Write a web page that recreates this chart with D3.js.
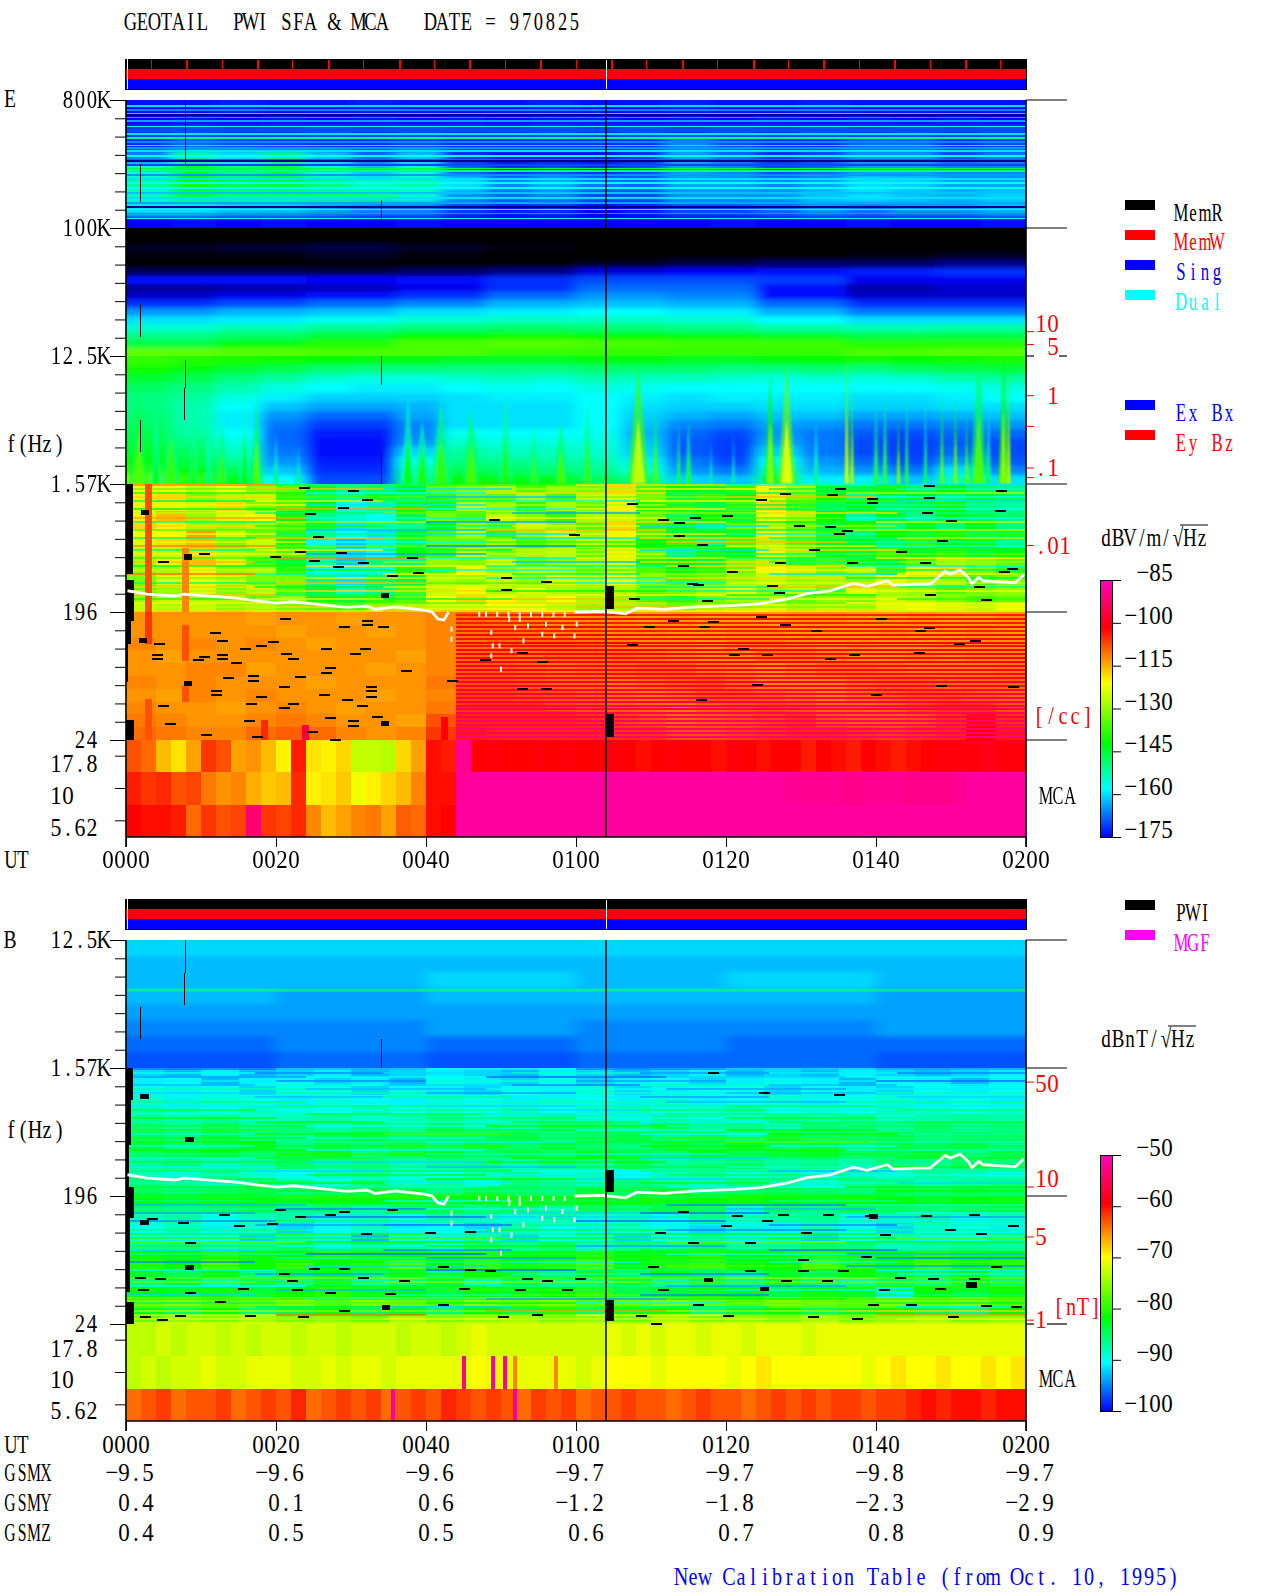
<!DOCTYPE html>
<html>
<head>
<meta charset="utf-8">
<script src="https://d3js.org/d3.v7.min.js"></script>
<style>
body { margin:0; background:#fff; }
text { font-family:"Liberation Serif",serif; font-size:26px; }
</style>
</head>
<body>
<svg id="chart" width="1280" height="1593"></svg>
<script>
// frequency is kept in axis steps: log8(f/24 Hz), 0 = 24, 1 = 196, 2 = 1.57K ...
var timeLabels = ["0000","0020","0040","0100","0120","0140","0200"];
var gsmx = ["-9.5","-9.6","-9.6","-9.7","-9.7","-9.8","-9.7"];
var gsmy = ["0.4","0.1","0.6","-1.2","-1.8","-2.3","-2.9"];
var gsmz = ["0.4","0.5","0.5","0.6","0.7","0.8","0.9"];
var eFreqLabels = ["24","196","1.57K","12.5K","100K","800K"];
var bFreqLabels = ["24","196","1.57K","12.5K"];
var mcaLabels = ["17.8","10","5.62"];
var eColorTicks = [-175,-160,-145,-130,-115,-100,-85];
var bColorTicks = [-100,-90,-80,-70,-60,-50];
var eDensitySteps = [3.19,3.09,2.69,2.45,2.125,2.05,1.52];
var bFieldSteps = [1.89,1.07,0.68,0.03];

// 100K-800K background, rows top to bottom
var eHighDb = [
[-174,-174,-173,-174,-174,-173,-174,-174,-174,-173,-174,-174,-173,-174,-174,-173,-174,-174,-174,-174],
[-175,-174,-175,-174,-175,-174,-175,-174,-175,-174,-174,-175,-174,-175,-174,-175,-174,-175,-174,-175],
[-171,-170,-171,-171,-170,-171,-170,-171,-171,-170,-171,-170,-171,-170,-171,-170,-171,-170,-171,-170],
[-172,-168,-170,-171,-172,-172,-170,-172,-172,-172,-172,-172,-166,-170,-172,-172,-168,-168,-172,-170],
[-166,-152,-160,-150,-162,-168,-162,-172,-174,-174,-174,-172,-164,-168,-172,-170,-165,-165,-170,-167],
[-156,-143,-150,-145,-156,-162,-156,-168,-172,-170,-172,-170,-164,-166,-170,-168,-164,-164,-166,-166],
[-152,-141,-147,-146,-150,-154,-152,-160,-166,-163,-167,-168,-164,-164,-166,-164,-160,-161,-164,-164],
[-154,-146,-150,-150,-150,-151,-155,-165,-168,-166,-170,-170,-165,-165,-165,-162,-160,-162,-163,-161],
[-160,-160,-162,-162,-164,-166,-166,-171,-173,-172,-175,-173,-170,-170,-168,-165,-167,-165,-165,-163],
[-175,-174,-175,-174,-175,-175,-174,-175,-175,-175,-175,-175,-175,-174,-175,-175,-174,-175,-175,-174]
];
// thin horizontal lines in the 100K-800K band
var eLineSteps = [4.96,4.93,4.90,4.89,4.87,4.84,4.80,4.77,4.74,4.71,4.68,4.65,4.63,4.61,4.57,4.54,4.53,4.50,4.47,4.45,4.42,4.39,4.36,4.32,4.28,4.24,4.20,4.17,4.15,4.12,4.08];
var eLineDb = [-160,-166,-148,-182,-165,-164,-157,-170,-160,-150,-166,-160,-165,-160,-157,-168,-182,-170,-146,-150,-165,-160,-157,-158,-162,-160,-164,-182,-156,-165,-158];

// 12.5K-100K sweep band
var eSweepDb = [
[-190,-190,-190,-190,-190,-190,-190,-190,-190,-190],
[-190,-190,-190,-190,-190,-190,-190,-190,-190,-190],
[-188,-187,-186,-188,-189,-190,-190,-190,-190,-190],
[-189,-189,-188,-189,-190,-190,-190,-190,-189,-188],
[-190,-190,-190,-190,-190,-188,-186,-184,-184,-182],
[-185,-185,-186,-184,-182,-177,-175,-174,-173,-172],
[-174,-174,-175,-174,-172,-170,-170,-171,-176,-176],
[-181,-180,-179,-176,-172,-168,-168,-174,-180,-178],
[-178,-176,-174,-172,-168,-165,-166,-174,-178,-178],
[-172,-170,-168,-166,-163,-162,-163,-168,-172,-172],
[-165,-163,-162,-160,-159,-158,-159,-163,-167,-167],
[-160,-159,-157,-155,-154,-154,-155,-158,-160,-160],
[-155,-153,-151,-149,-148,-149,-150,-152,-153,-152],
[-150,-148,-145,-142,-141,-142,-143,-144,-146,-146],
[-146,-143,-139,-136,-135,-136,-137,-137,-139,-139],
[-134,-135,-136,-136,-138,-138,-138,-138,-136,-135]
];

// 1.57K-12.5K, background under the bursts
var eLowerDb = [
[-138,-139,-140,-141,-142,-143,-143,-144,-144,-144,-143,-143,-144,-144,-143,-142,-141,-142,-141,-140],
[-141,-143,-145,-147,-149,-150,-150,-150,-150,-150,-149,-149,-149,-150,-150,-149,-150,-148,-147,-146],
[-145,-147,-150,-152,-155,-156,-156,-155,-154,-155,-153,-154,-154,-155,-156,-155,-156,-155,-153,-152],
[-148,-150,-153,-156,-158,-159,-159,-158,-157,-158,-156,-157,-158,-158,-158,-158,-158,-158,-157,-156],
[-150,-152,-156,-159,-161,-161,-161,-160,-159,-159,-158,-159,-160,-159,-159,-159,-160,-160,-159,-158],
[-150,-153,-158,-162,-164,-164,-163,-160,-160,-160,-158,-160,-161,-161,-160,-160,-161,-161,-160,-160],
[-149,-153,-159,-165,-168,-168,-164,-160,-160,-160,-158,-161,-163,-164,-162,-162,-164,-164,-163,-162],
[-148,-153,-159,-167,-171,-171,-166,-160,-160,-160,-158,-162,-166,-167,-164,-165,-167,-167,-166,-165],
[-147,-152,-158,-168,-173,-173,-166,-157,-158,-158,-157,-163,-168,-170,-165,-167,-169,-170,-168,-168],
[-146,-150,-156,-168,-174,-174,-165,-155,-156,-156,-156,-162,-169,-171,-164,-167,-170,-171,-169,-170],
[-144,-148,-154,-167,-174,-174,-161,-152,-154,-154,-155,-161,-169,-171,-161,-167,-170,-171,-168,-170],
[-142,-146,-151,-165,-173,-173,-157,-150,-151,-152,-153,-159,-167,-170,-157,-165,-168,-170,-165,-169],
[-139,-143,-147,-162,-172,-172,-154,-147,-148,-149,-151,-156,-165,-167,-153,-163,-165,-167,-160,-166],
[-133,-138,-143,-158,-170,-170,-150,-142,-143,-143,-147,-151,-161,-162,-147,-159,-159,-162,-154,-160]
];
// bursts rising from 1.57K
var burstMin = [1.7,4,6,9,11,12.8,15.8,17.4,20,23,37.6,39.5,42,46,50.6,54.4,58,61.5,68.3,70.6,73.7,75,78,81,85.9,88.1,92,96.1,96.8,100,101.2,103,104.1,106.6,108.8,110.6,112.1,113.7,115,117,117.7];
var burstTop = [2.76,2.6,2.7,2.5,2.4,2.47,2.7,2.65,2.4,2.3,2.7,2.5,2.65,2.6,2.7,2.47,2.5,2.65,2.92,2.6,2.5,2.5,2.35,2.4,2.89,2.92,2.5,3.1,2.76,2.66,2.74,2.53,2.74,2.68,2.74,2.71,2.58,3.0,2.6,3.05,3.0];
var burstWidth = [2.5,1.5,2.5,1.5,1,2,1.5,1.5,1,1,2,2.5,3,2.5,2,1.5,2,1.5,3,1,0.7,1,0.6,0.6,1.5,2.5,0.8,0.7,0.6,0.8,0.8,0.6,0.6,0.6,0.6,0.6,0.6,2.5,0.8,1.5,0.6];
var burstDb = [-135,-142,-138,-140,-146,-138,-142,-135,-148,-150,-142,-140,-138,-136,-140,-138,-136,-138,-125,-135,-140,-140,-150,-150,-130,-122,-146,-122,-125,-138,-138,-128,-138,-140,-132,-128,-132,-135,-144,-130,-125];

// 196-1.57K mosaic
var eMidDb = [
[-122,-122,-126,-122,-130,-134,-144,-150,-148,-142,-134,-130,-128,-136,-130,-132,-118,-136,-142,-144,-138,-120,-128,-144,-146,-140,-148,-142,-148,-150],
[-120,-118,-132,-128,-126,-138,-148,-152,-146,-148,-138,-132,-134,-128,-136,-126,-124,-132,-146,-138,-142,-124,-132,-140,-150,-146,-142,-148,-144,-146],
[-124,-124,-126,-118,-132,-136,-142,-156,-152,-140,-140,-126,-130,-138,-128,-134,-120,-140,-138,-146,-136,-118,-136,-148,-142,-148,-146,-140,-150,-152],
[-120,-116,-130,-124,-122,-142,-150,-154,-158,-146,-132,-136,-126,-132,-138,-128,-126,-134,-148,-142,-146,-122,-128,-142,-152,-144,-150,-144,-146,-148],
[-118,-120,-128,-130,-128,-134,-146,-160,-152,-150,-142,-130,-134,-126,-130,-136,-118,-138,-140,-150,-134,-126,-134,-146,-140,-150,-142,-150,-142,-150],
[-122,-122,-114,-126,-134,-138,-152,-158,-160,-144,-136,-128,-138,-130,-124,-130,-122,-136,-146,-144,-140,-120,-130,-138,-148,-142,-146,-140,-148,-146],
[-124,-118,-116,-132,-126,-140,-156,-162,-154,-148,-134,-134,-128,-136,-132,-126,-128,-142,-138,-152,-136,-128,-136,-144,-142,-148,-138,-144,-140,-150],
[-126,-126,-118,-128,-130,-136,-148,-160,-158,-142,-138,-126,-132,-128,-126,-134,-120,-134,-150,-140,-142,-124,-130,-140,-146,-138,-144,-138,-146,-142],
[-128,-120,-116,-124,-136,-144,-154,-162,-150,-150,-130,-132,-124,-134,-130,-128,-124,-140,-142,-146,-132,-128,-138,-136,-140,-144,-136,-128,-130,-134],
[-130,-128,-120,-130,-128,-138,-158,-156,-156,-138,-136,-124,-130,-126,-128,-132,-126,-136,-144,-138,-134,-122,-126,-132,-128,-136,-124,-118,-132,-138],
[-132,-124,-122,-126,-132,-132,-150,-160,-148,-146,-128,-130,-126,-130,-124,-126,-122,-130,-136,-134,-130,-126,-130,-128,-130,-122,-126,-128,-136,-132],
[-134,-130,-124,-132,-126,-136,-146,-154,-150,-136,-126,-122,-128,-124,-128,-130,-128,-134,-132,-128,-124,-130,-126,-132,-124,-128,-130,-136,-132,-130],
[-130,-126,-128,-128,-134,-130,-140,-146,-138,-134,-122,-118,-120,-126,-122,-128,-130,-136,-138,-132,-128,-128,-134,-130,-132,-126,-128,-132,-136,-134],
[-126,-128,-126,-130,-128,-132,-134,-136,-130,-128,-124,-124,-122,-122,-126,-130,-128,-130,-132,-128,-126,-124,-128,-126,-128,-124,-122,-124,-126,-122]
];
// fine lines over the mosaic; row lengths differ so the blocks do not line up
var eMidFine = [
[-112,-150,-140,-118,-156,-160],
[-134,-116,-160,-128,-120,-146,-154],
[-140,-158,-118,-148,-128],
[-118,-136,-162,-132,-116,-158],
[-146,-124,-150,-156,-122,-138,-160],
[-120,-160,-128,-146,-152],
[-142,-114,-158,-120,-148,-156],
[-126,-148,-134,-164,-130,-118,-150],
[-114,-156,-122,-136,-158],
[-150,-128,-164,-118,-142,-124],
[-118,-140,-152,-124,-160,-130,-148],
[-136,-162,-116,-146,-126],
[-122,-150,-160,-120,-154,-138],
[-148,-116,-132,-160,-118,-150,-126],
[-124,-158,-138,-116,-152],
[-112,-134,-166,-142,-122,-156],
[-150,-122,-146,-128,-160,-118,-144],
[-120,-164,-126,-150,-134],
[-138,-112,-156,-124,-148,-120],
[-116,-148,-130,-162,-118,-152,-130],
[-144,-120,-152,-118,-156],
[-126,-140,-158,-136,-120,-148],
[-110,-152,-120,-148,-128,-160,-122],
[-132,-124,-154,-118,-146],
[-150,-116,-136,-156,-124,-126],
[-118,-144,-124,-128,-150,-116,-152],
[-128,-118,-142,-152,-122],
[-116,-150,-126,-120,-140,-130],
[-140,-124,-146,-116,-152,-122,-138],
[-120,-136,-118,-134,-120],
[-126,-118,-128,-116,-132,-124],
[-118,-124,-116,-122,-120,-118,-126]
];
// narrow strong columns in the low bands: minute, stepTop, stepBottom, value
var eColumns = [[2.5,2,1,-108],[2.5,1,0.75,-106],[2.5,0.32,0,-108],[7.5,1.5,1,-112],[7.5,0.9,0.62,-108],[7.5,0.42,0.3,-108],[23.5,0.12,0,-97],[18,0.16,0,-105],[42,0.18,0,-102]];

// 24-196, orange block on the left, redder on the right
var eBaseDb = [
[-113,-113,-113,-113,-114,-113,-113,-114,-113,-113,-112,-110,-111,-112,-113,-113,-113,-114,-113,-114,-114,-114,-113,-113,-114,-114,-113,-114,-114,-113],
[-113,-113,-113,-113,-113,-114,-113,-113,-114,-113,-112,-111,-110,-111,-112,-112,-113,-113,-114,-114,-113,-113,-114,-114,-114,-113,-114,-114,-113,-114],
[-112,-113,-112,-113,-112,-113,-114,-113,-113,-113,-112,-111,-110,-110,-110,-111,-112,-113,-113,-114,-112,-112,-113,-114,-113,-114,-114,-113,-113,-113],
[-113,-114,-113,-113,-113,-113,-113,-113,-113,-114,-112,-110,-110,-111,-110,-110,-110,-111,-112,-113,-113,-111,-111,-112,-113,-113,-112,-113,-112,-112],
[-113,-113,-112,-112,-114,-113,-113,-113,-114,-113,-112,-109,-109,-110,-111,-110,-110,-109,-109,-111,-112,-113,-112,-110,-110,-111,-112,-112,-112,-111],
[-112,-113,-112,-113,-113,-113,-114,-113,-113,-113,-111,-108,-108,-109,-110,-110,-111,-110,-109,-108,-110,-112,-112,-112,-110,-109,-109,-110,-110,-110],
[-113,-114,-112,-113,-112,-113,-113,-113,-114,-113,-112,-107,-107,-108,-108,-109,-110,-111,-110,-108,-108,-109,-110,-112,-110,-109,-108,-108,-109,-110],
[-112,-113,-113,-114,-113,-112,-113,-114,-113,-113,-111,-106,-106,-106,-107,-108,-109,-110,-111,-109,-108,-107,-108,-110,-110,-109,-107,-106,-106,-108],
[-111,-112,-113,-113,-112,-111,-112,-113,-113,-114,-108,-105,-105,-105,-105,-106,-107,-108,-110,-109,-108,-107,-106,-108,-109,-109,-108,-106,-103,-106],
[-110,-111,-112,-112,-110,-109,-110,-112,-113,-112,-106,-104,-105,-105,-105,-105,-106,-106,-108,-108,-107,-106,-105,-105,-106,-107,-106,-105,-102,-104]
];
var eBaseStripeDb = [-104,-103,-104,-102,-104,-102,-103,-101,-103,-101,-102,-100,-101,-99,-101,-99,-100,-98,-99,-97,-98,-96,-97,-95,-96,-94,-95,-93,-94,-92,-93,-91];

// MCA channels 17.8, 10, 5.62, one value every 2 min
var eMcaDb = [
[-108,-110,-116,-119,-114,-106,-108,-114,-113,-116,-120,-104,-119,-120,-118,-126,-126,-127,-118,-114,-103,-104,-89,-102,-101,-102,-102,-101,-102,-101,-102,-102,-101,-102,-103,-102,-101,-102,-102,-103,-101,-102,-103,-102,-102,-104,-102,-103,-104,-102,-103,-104,-103,-102,-101,-101,-101,-100,-101,-101],
[-104,-106,-105,-108,-107,-111,-113,-112,-115,-117,-116,-105,-120,-119,-117,-122,-120,-118,-116,-112,-103,-103,-88,-88,-88,-88,-88,-88,-88,-88,-88,-88,-88,-88,-88,-88,-88,-88,-88,-88,-88,-88,-88,-88,-89,-89,-89,-89,-90,-89,-89,-89,-90,-90,-90,-89,-88,-88,-88,-88],
[-102,-103,-103,-104,-110,-106,-108,-107,-92,-106,-107,-105,-112,-116,-114,-112,-111,-114,-109,-110,-103,-102,-88,-88,-88,-88,-88,-88,-88,-88,-88,-88,-88,-88,-88,-88,-88,-88,-88,-88,-88,-88,-88,-88,-88,-88,-88,-88,-88,-88,-88,-88,-88,-88,-88,-88,-88,-88,-88,-88]
];

// black dashes (missing samples), E panel: minute and step
var eDashMin = [23.7,30.2,32.1,24.5,28.9,25.6,23.2,28.6,19.9,4.9,10.4,25,28.3,31.6,35.4,38.9,50.6,56,50.6,38.1,49,59.7,21.2,29.1,32.1,32.1,34.3,11.9,12.8,4.4,19.6,18,15.8,26.7,30.5,31.8,4.1,10.4,12.8,21.3,4.1,9.6,12.8,22.3,14.7,27.2,26.7,37.3,16.9,13.6,16.9,23.2,12,12,21,26.4,32.7,32.7,32.7,29.4,18,16.6,22.3,4.9,31.5,21,24.8,27.8,10.7,17.4,5.8,16.4,27.2,30.2,30.2,33.5,47.9,52.8,55.5,52.8,56,43.5,67.5,71.6,73.7,75.9,80.1,84.6,87.8,89.7,94.1,95.2,99.5,99.5,96.1,95,93.9,107,107,116.6,116.5,106.8,110,73.7,76.8,74.3,75.5,76.3,80.8,86.1,87,87.2,91.7,96.8,103.3,106.5,108.8,117,118.1,107.2,114.7,113.7,67.7,77.4,69.7,72.9,77,78.3,84.7,87.8,92,100.7,105.9,107,67.4,82.3,81.1,85.5,93.9,97.1,105.7,111.1,113.2,84.1,100,76.6,108.6,118.3];
var eDashStep = [1.98,1.95,1.88,1.77,1.82,1.59,1.48,1.47,1.44,1.40,1.46,1.41,1.36,1.39,1.29,1.31,1.27,1.24,1.18,1.43,1.73,1.61,0.95,0.89,0.94,0.91,0.89,0.84,0.78,0.76,0.77,0.74,0.72,0.72,0.68,0.72,0.67,0.66,0.67,0.68,0.64,0.63,0.64,0.64,0.61,0.57,0.53,0.55,0.51,0.49,0.47,0.50,0.39,0.36,0.42,0.36,0.42,0.39,0.34,0.32,0.34,0.29,0.29,0.27,0.27,0.26,0.07,0.01,0.05,0.03,0.13,0.16,0.18,0.16,0.12,0.19,0.63,0.69,0.62,0.41,0.41,0.47,1.85,1.73,1.70,1.74,1.76,1.88,1.93,1.68,1.92,1.97,1.89,1.86,1.64,1.62,1.67,1.99,1.90,1.95,1.80,1.78,1.72,1.60,1.53,1.37,1.23,1.22,1.32,1.21,1.16,1.39,1.49,1.39,1.48,1.39,1.56,1.32,1.34,1.14,1.10,1.20,1.11,1.09,0.89,0.94,0.89,0.93,0.97,0.91,0.86,0.95,0.86,0.88,0.75,0.72,0.67,0.67,0.64,0.67,0.69,0.76,0.78,0.44,0.36,0.32,0.43,0.42];
// black gaps: [min0, min1, stepTop, stepBottom]
var eGaps = [[0,0.9,2,1.3],[0,1,1.25,0.93],[0,0.6,0.93,0.75],[0,0.3,0.75,0.45],[0,1,0.16,0],[63.8,65,1.2,1.02],[63.8,65,0.2,0.02],[2,3,1.8,1.76],[7.7,8.8,1.45,1.41],[1.7,2.8,0.8,0.76],[7.7,8.8,0.46,0.42],[34,35.1,1.15,1.11],[34,35.1,0.15,0.11]];
// thin vertical gaps: [min, stepTop, stepBottom]
var eThinGaps = [[7.9,5,4.5],[1.8,4.5,4.2],[34,4.22,4],[1.8,3.4,3.15],[34,3,2.77],[7.9,2.97,2.75],[7.7,2.75,2.5],[1.8,2.5,2.25],[34,2.25,2]];

// B panel: 1.57K-12.5K background
var bTopDb = [
[-92,-92,-92,-92,-92,-92],
[-93,-93,-93,-93,-93,-93],
[-93,-93,-92,-93,-92,-93],
[-93,-94,-93,-93,-93,-94],
[-94,-94,-94,-94,-94,-94],
[-95,-95,-94,-95,-95,-94],
[-96,-95,-96,-95,-96,-96],
[-97,-96,-97,-96,-96,-97]
];
var bMidDb = [
[-92,-93,-91,-93,-92,-91,-93,-92,-91,-92,-93,-91,-92,-93,-92,-91,-93,-92,-93,-91,-92,-93,-92,-91],
[-91,-90,-93,-91,-90,-92,-91,-93,-90,-91,-92,-90,-92,-91,-90,-92,-91,-90,-91,-93,-90,-91,-93,-91],
[-90,-91,-90,-92,-90,-90,-92,-90,-91,-92,-90,-91,-89,-92,-91,-90,-90,-92,-90,-91,-92,-90,-91,-90],
[-89,-91,-89,-90,-91,-89,-90,-91,-89,-90,-91,-89,-90,-91,-89,-91,-90,-89,-91,-90,-89,-91,-90,-91],
[-88,-89,-90,-88,-89,-90,-88,-90,-89,-90,-88,-90,-89,-88,-90,-89,-88,-90,-89,-90,-88,-89,-90,-89],
[-87,-88,-87,-89,-88,-87,-89,-88,-87,-89,-88,-87,-88,-89,-87,-88,-89,-87,-88,-87,-89,-88,-87,-88],
[-86,-87,-85,-87,-86,-88,-86,-87,-85,-87,-88,-86,-86,-87,-85,-87,-86,-88,-85,-86,-87,-85,-87,-86],
[-85,-86,-84,-86,-87,-85,-84,-86,-85,-85,-84,-86,-85,-84,-86,-85,-87,-84,-86,-85,-84,-86,-85,-85],
[-84,-86,-85,-83,-86,-84,-85,-84,-86,-84,-85,-83,-85,-86,-84,-85,-83,-85,-84,-86,-84,-85,-84,-86],
[-85,-84,-83,-85,-84,-83,-86,-84,-83,-85,-84,-85,-83,-84,-85,-83,-85,-84,-83,-85,-84,-83,-86,-84],
[-87,-86,-88,-87,-85,-87,-86,-88,-87,-86,-88,-86,-87,-85,-87,-86,-85,-87,-86,-88,-86,-87,-85,-86],
[-88,-89,-87,-89,-90,-88,-87,-89,-90,-88,-87,-89,-88,-90,-88,-87,-89,-88,-90,-88,-89,-87,-88,-89],
[-86,-87,-88,-86,-87,-89,-86,-88,-87,-89,-86,-87,-88,-86,-87,-88,-86,-87,-89,-87,-86,-88,-87,-86],
[-85,-86,-85,-84,-86,-85,-84,-85,-86,-84,-85,-86,-84,-85,-84,-86,-85,-84,-85,-86,-84,-85,-84,-85]
];
var bMidFine = [
[-96,-93,-90,-95,-92,-94],
[-90,-95,-92,-89,-94,-91,-95],
[-94,-90,-96,-92,-90],
[-91,-95,-89,-94,-91,-96],
[-93,-89,-92,-95,-88,-93,-90],
[-88,-93,-90,-94,-91],
[-92,-87,-94,-89,-93,-88],
[-89,-93,-87,-91,-94,-89,-92],
[-86,-91,-88,-93,-87],
[-91,-86,-92,-88,-85,-91],
[-84,-90,-87,-92,-85,-89,-86],
[-89,-84,-91,-86,-88],
[-82,-88,-85,-90,-83,-87],
[-87,-82,-89,-84,-91,-85,-83],
[-84,-90,-81,-87,-85],
[-80,-86,-83,-89,-82,-86],
[-88,-82,-79,-85,-90,-81,-87],
[-83,-89,-84,-80,-86],
[-81,-87,-91,-83,-78,-88],
[-89,-83,-80,-86,-82,-90,-84],
[-82,-90,-85,-81,-88],
[-86,-80,-88,-91,-83,-85],
[-90,-84,-87,-81,-92,-86,-83],
[-84,-92,-82,-88,-86],
[-91,-86,-93,-84,-89,-82],
[-85,-92,-84,-90,-86,-93,-87],
[-89,-83,-91,-85,-90],
[-84,-90,-82,-92,-85,-88],
[-88,-82,-91,-86,-83,-89,-92],
[-83,-88,-85,-90,-82],
[-85,-81,-87,-83,-86,-82],
[-82,-84,-80,-85,-81,-83,-86]
];
var bLowDb = [
[-82,-83,-81,-82,-83,-81,-82,-81,-83,-82,-81,-83,-82,-81,-83,-82,-81,-82,-83,-81,-82,-83,-82,-81],
[-85,-86,-85,-84,-86,-85,-87,-85,-84,-86,-85,-87,-85,-86,-84,-85,-89,-85,-86,-84,-85,-86,-85,-84],
[-88,-87,-90,-88,-87,-89,-88,-90,-87,-88,-89,-87,-89,-88,-90,-87,-89,-88,-87,-90,-88,-87,-89,-88],
[-90,-88,-91,-89,-92,-90,-88,-91,-90,-92,-88,-90,-91,-89,-90,-92,-89,-91,-88,-90,-92,-89,-90,-91],
[-89,-91,-90,-92,-88,-91,-93,-89,-91,-88,-92,-90,-89,-92,-90,-88,-91,-89,-92,-90,-88,-91,-90,-88],
[-87,-86,-88,-87,-85,-88,-86,-87,-89,-86,-87,-85,-88,-86,-87,-85,-88,-87,-85,-86,-88,-87,-86,-87],
[-81,-82,-80,-81,-82,-80,-81,-82,-81,-80,-82,-81,-80,-82,-81,-80,-82,-81,-80,-81,-82,-80,-81,-82],
[-80,-82,-78,-81,-79,-82,-80,-78,-82,-79,-81,-80,-78,-82,-80,-79,-81,-82,-78,-80,-82,-79,-81,-80],
[-83,-85,-82,-86,-84,-82,-85,-83,-86,-82,-84,-86,-83,-85,-82,-84,-86,-83,-85,-82,-84,-85,-83,-86],
[-86,-84,-88,-85,-87,-84,-88,-86,-84,-89,-85,-87,-86,-84,-88,-85,-87,-84,-86,-88,-85,-87,-84,-86],
[-82,-83,-81,-84,-82,-80,-83,-82,-84,-81,-83,-82,-80,-84,-83,-81,-82,-84,-81,-83,-91,-82,-84,-81],
[-77,-76,-78,-77,-76,-78,-76,-77,-78,-76,-77,-76,-78,-77,-76,-77,-78,-76,-77,-78,-76,-77,-76,-78],
[-83,-85,-82,-86,-84,-81,-85,-83,-86,-82,-84,-80,-85,-83,-81,-86,-84,-82,-85,-83,-81,-84,-86,-82],
[-77,-75,-76,-74,-76,-75,-77,-74,-76,-75,-74,-76,-75,-77,-74,-76,-75,-76,-74,-76,-75,-74,-76,-75]
];
var bLowFine = [
[-84,-80,-82,-85,-81,-83],
[-86,-82,-90,-84,-81,-87,-83],
[-93,-86,-84,-95,-88],
[-87,-95,-90,-85,-93,-86],
[-94,-88,-85,-92,-96,-87,-90],
[-88,-96,-92,-86,-94],
[-95,-86,-89,-96,-87,-91],
[-89,-94,-96,-86,-91,-95,-88],
[-86,-90,-84,-95,-87],
[-84,-80,-87,-83,-81,-86],
[-80,-84,-79,-83,-85,-81,-78],
[-78,-81,-85,-77,-83],
[-84,-90,-82,-94,-86,-88],
[-92,-85,-95,-87,-83,-96,-86],
[-87,-96,-84,-90,-93],
[-83,-88,-94,-81,-86,-95],
[-95,-82,-87,-91,-84,-89,-80],
[-81,-92,-85,-79,-94],
[-89,-83,-96,-86,-82,-91],
[-84,-94,-81,-88,-95,-83,-90],
[-78,-76,-79,-77,-75,-78],
[-77,-79,-75,-76,-78,-76,-77],
[-90,-82,-86,-94,-80],
[-83,-93,-80,-85,-90,-81],
[-92,-80,-88,-78,-95,-84,-86],
[-80,-86,-94,-82,-79],
[-85,-78,-82,-90,-77,-83],
[-77,-84,-92,-79,-86,-76,-90],
[-74,-76,-66,-75,-68],
[-72,-64,-75,-70,-76,-66],
[-72,-74,-71,-73,-72,-74,-71],
[-71,-72,-72,-71,-72]
];
var bMcaDb = [
[-73,-73,-72,-73,-72,-72,-73,-72,-73,-72,-72,-73,-72,-72,-73,-72,-72,-72,-73,-72,-72,-73,-72,-71,-72,-72,-72,-72,-72,-72,-72,-72,-71,-72,-71,-72,-71,-71,-72,-71,-71,-72,-71,-71,-71,-72,-71,-71,-71,-71,-71,-71,-71,-71,-71,-71,-71,-71,-71,-71],
[-73,-72,-73,-72,-72,-71,-72,-72,-71,-71,-71,-72,-72,-71,-72,-71,-71,-72,-71,-71,-71,-71,-71,-70,-71,-71,-71,-71,-71,-71,-72,-71,-70,-70,-70,-71,-70,-70,-70,-70,-71,-70,-69,-70,-70,-70,-70,-70,-70,-71,-70,-69,-70,-70,-69,-70,-70,-69,-70,-69],
[-64,-63,-62,-64,-63,-63,-62,-64,-63,-62,-63,-61,-64,-63,-62,-63,-62,-64,-63,-62,-63,-61,-62,-63,-62,-63,-64,-62,-63,-62,-64,-63,-63,-62,-63,-63,-64,-63,-62,-63,-63,-64,-63,-62,-63,-62,-63,-62,-62,-63,-62,-62,-61,-60,-61,-60,-60,-61,-60,-60]
];
// single narrow MCA columns: minute, channel index, value
var bSpikeMin = [44.8,48.7,50.2,51.6,57,35.3,51.6];
var bSpikeBand = [1,1,1,1,1,2,2];
var bSpikeDb = [-52,-52,-52,-65,-65,-52,-52];

var bDashMin = [3.4,7.6,13,20.5,29,15.1,19.4,23.2,27.2,35.4,40.5,45.9,32,21,8.5,25,29,1.9,4.5,22.1,31.6,37,42.3,45.9,48.5,53.4,56.1,60.5,2.3,8.5,15.6,22.8,27.2,35.2,45,52.5,58.8,12.5,7.2,4.8,2.5,16.5,42.3,50.3,54.8,29,23.6,78.3,85,95,74.3,81.4,87.6,93.6,99.2,106.7,113,80,71.2,85.4,118.3,90.7,101.2,109.8,114,83.2,75.6,90.3,98.7,70.3,83.2,95.6,90.3,103.2,116,107.6,93.4,113,88,71.6,101,108.5,76.3,99.6,114.7,104.7,118.7,68.7,80.3,91.6,97.4,110.3,70.7];
var bDashStep = [0.83,0.80,0.86,0.90,0.88,0.77,0.79,0.84,0.86,0.90,0.72,0.73,0.71,0.40,0.64,0.44,0.44,0.37,0.36,0.34,0.37,0.34,0.45,0.43,0.42,0.36,0.34,0.36,0.27,0.25,0.28,0.27,0.25,0.24,0.28,0.27,0.27,0.18,0.07,0.04,0.06,0.07,0.16,0.06,0.08,0.11,0.06,1.97,1.81,1.80,0.88,0.85,0.86,0.86,0.85,0.85,0.86,0.77,0.72,0.81,0.77,0.72,0.70,0.74,0.71,0.64,0.64,0.51,0.53,0.45,0.42,0.42,0.42,0.37,0.45,0.36,0.34,0.36,0.34,0.27,0.27,0.28,0.16,0.16,0.15,0.16,0.14,0.07,0.07,0.06,0.05,0.06,0.01];
var bGaps = [[0,0.9,2,1.75],[0,0.6,1.75,1.4],[0,0.4,1.4,1.07],[0,1,1.07,0.83],[0,0.5,0.83,0.25],[0,1,0.17,0],[63.8,65,1.2,1.03],[63.8,65,0.19,0.02],[1.9,3,1.8,1.76],[7.9,9,1.46,1.42],[1.9,3,0.81,0.77],[7.9,9,0.46,0.42],[34.1,35.2,0.15,0.11],[112,113.5,0.33,0.28],[99,100.2,0.86,0.82],[77,78.2,0.36,0.33],[84.5,85.7,0.29,0.26]];
var bThinGaps = [[7.9,3,2.74],[7.7,2.74,2.49],[1.8,2.48,2.23],[34,2.23,2]];

// electron gyrofrequency trace (white): minute, step
var fceMin = [0.2,2.8,6.6,7.7,14.7,16.9,20.2,22.3,26.7,29.4,32.1,33.2,35.9,39.7,40.8,41.6,42.4,43];
var fceStep = [1.166,1.14,1.125,1.14,1.109,1.09,1.07,1.08,1.054,1.036,1.047,1.02,1.04,1.015,1,0.945,0.937,1];
var fceLateMin = [59.8,63.6,66.6,68.1,71.7,76.1,80.6,84.6,88.1,90.8,93.9,97,98.8,101.5,102.3,105.5,107.2,109.2,109.9,111.2,112.3,112.8,113.7,114.3,116.6,118.6,119.7];
var fceLateStep = [1,1.005,0.986,1.03,1.02,1.04,1.05,1.065,1.1,1.144,1.165,1.225,1.2,1.244,1.21,1.217,1.217,1.317,1.296,1.328,1.27,1.22,1.27,1.244,1.236,1.23,1.29];
var fceDotMin = [43.4,43.4,48.7,48.9,48.7,49.8,50,51.1,51.9,51.4,52.5,53,53.6,55.5,56,57.1,58.2,59.8,60.1,47.1,48,49.5,51,52.5,54,55.5,57,58.5];
var fceDotStep = [0.885,0.807,0.859,0.755,0.677,0.755,0.573,0.963,0.898,0.716,0.963,0.794,0.911,0.846,0.924,0.833,0.898,0.833,0.924,1,1,1,1,1,1,1,1,1];

var svg = d3.select("#chart");
var x = d3.scaleLinear().domain([0,120]).range([126,1026]);

var eColor = d3.scaleLinear().domain([-190,-175,-158,-142,-121,-102,-85])
    .range(["#000000","#0000ff","#00ffff","#00ff00","#ffff00","#ff0000","#ff00c0"]).clamp(true);
var bColor = d3.scaleLinear().domain([-108,-100,-90.5,-81.75,-70,-59.5,-50])
    .range(["#000000","#0000ff","#00ffff","#00ff00","#ffff00","#ff0000","#ff00c0"]).clamp(true);

var defs = svg.append("defs");
defs.append("filter").attr("id","soft").attr("x","-5%").attr("y","-20%").attr("width","110%").attr("height","140%")
    .append("feGaussianBlur").attr("stdDeviation","7 2");
defs.append("filter").attr("id","softThin").attr("x","-2%").attr("y","-5%").attr("width","104%").attr("height","110%")
    .append("feGaussianBlur").attr("stdDeviation","0.8 1.5");

// glyphs sit in 12px cells like the plotter font
function mono(g, s, px, py, fill, sx, anchor) {
    sx = (sx || 0.8)*28/26;
    var cell = 12, left = anchor == "end" ? px - s.length*cell : px;
    var xs = s.split("").map(function(c,i){ return (i+0.5)*cell/sx; });
    return g.append("text")
        .attr("transform","translate("+left+","+py+") scale("+sx+",1)")
        .attr("x",xs.join(" "))
        .attr("text-anchor","middle")
        .attr("fill",fill || "#000")
        .style("white-space","pre")
        .text(s);
}

var clipCount = 0;
function drawGrid(g, rows, y0, y1, color, soft, lines) {
    var pad = soft ? 24 : 0;
    var rowBand = d3.scaleBand().domain(d3.range(rows.length)).range([y0,y1]).paddingInner(lines ? 0.5 : 0);
    var id = "clip"+(clipCount++);
    defs.append("clipPath").attr("id",id).append("rect")
        .attr("x",x(0)).attr("y",y0).attr("width",x(120)-x(0)).attr("height",y1-y0);
    var inner = g.append("g").attr("clip-path","url(#"+id+")").append("g")
        .attr("filter",soft ? "url(#soft)" : null)
        .attr("opacity",lines ? 0.7 : 1)
        .attr("shape-rendering","crispEdges");
    rows.forEach(function(row,r){
        var colBand = d3.scaleBand().domain(d3.range(row.length)).range([x(0),x(120)]);
        inner.selectAll(null).data(row).enter().append("rect")
            .attr("x",function(d,i){ return colBand(i) - (i==0 ? pad : 0); })
            .attr("y",rowBand(r) - (r==0 ? pad : 0))
            .attr("width",function(d,i){ return colBand.bandwidth()+1 + (i==0||i==row.length-1 ? pad : 0); })
            .attr("height",rowBand.bandwidth()+(lines ? 0 : 1) + (r==0||r==rows.length-1 ? pad : 0))
            .attr("fill",function(d){ return color(d); });
    });
}

function drawStatusBars(top) {
    var g = svg.append("g").attr("shape-rendering","crispEdges");
    var fills = ["#000000","#ff0000","#0000ff"];
    var band = d3.scaleBand().domain(d3.range(3)).range([top,top+30]);
    g.selectAll(null).data(fills).enter().append("rect")
        .attr("x",x(0)).attr("width",x(120)-x(0))
        .attr("y",function(d,i){ return band(i); })
        .attr("height",band.bandwidth())
        .attr("fill",function(d){ return d; });
    g.append("line").attr("x1",x(64)).attr("x2",x(64)).attr("y1",top).attr("y2",top+30).attr("stroke","#fff").attr("stroke-width",1);
    g.append("rect").attr("x",x(0)-1).attr("y",top).attr("width",x(120)-x(0)+1).attr("height",30)
        .attr("fill","none").attr("stroke","#000");
    g.append("line").attr("x1",x(0)+1).attr("x2",x(0)+1).attr("y1",top).attr("y2",top+30).attr("stroke","#fff");
    return g;
}

function drawGaps(g, y, gaps, thin, dashMin, dashStep) {
    var s = g.append("g").attr("shape-rendering","crispEdges");
    s.selectAll(null).data(dashMin).enter().append("rect")
        .attr("x",function(d){ return x(d)-5; }).attr("width",11)
        .attr("y",function(d,i){ return y(dashStep[i]); }).attr("height",2);
    s.selectAll(null).data(gaps).enter().append("rect")
        .attr("x",function(d){ return x(d[0]); }).attr("width",function(d){ return x(d[1])-x(d[0]); })
        .attr("y",function(d){ return y(d[2]); }).attr("height",function(d){ return y(d[3])-y(d[2]); });
    s.selectAll(null).data(thin).enter().append("rect")
        .attr("x",function(d){ return x(d[0]); }).attr("width",1)
        .attr("y",function(d){ return y(d[1]); }).attr("height",function(d){ return y(d[2])-y(d[1]); });
}

function drawFce(g, y) {
    var line = d3.line().x(function(d){ return x(d[0]); }).y(function(d){ return y(d[1]); });
    [d3.zip(fceMin,fceStep), d3.zip(fceLateMin,fceLateStep)].forEach(function(pts){
        g.append("path").datum(pts).attr("d",line).attr("fill","none")
            .attr("stroke","#fff").attr("stroke-width",2.8);
    });
    g.selectAll(null).data(fceDotMin).enter().append("rect")
        .attr("x",function(d){ return x(d)-1; }).attr("width",2)
        .attr("y",function(d,i){ return y(fceDotStep[i]); }).attr("height",5)
        .attr("fill","#fff");
}

function drawAxes(g, y, maxStep, mcaBand, bottom) {
    var minor = d3.range(0,maxStep*7+1).map(function(k){ return k/7; });
    var major = d3.range(0,maxStep+1);
    g.append("g").attr("transform","translate("+x(0)+",0)")
        .call(d3.axisLeft(y).tickValues(minor).tickSize(11).tickFormat(""))
        .call(function(a){ a.select(".domain").remove(); });
    g.append("g").attr("transform","translate("+x(0)+",0)")
        .call(d3.axisLeft(y).tickValues(major).tickSize(16).tickFormat(""))
        .call(function(a){ a.select(".domain").remove(); });
    g.append("g").attr("transform","translate("+x(0)+",0)")
        .call(d3.axisLeft(mcaBand).tickSize(11).tickFormat(""))
        .call(function(a){ a.select(".domain").remove(); });
    g.append("g").attr("transform","translate(0,"+bottom+")")
        .call(d3.axisBottom(x).tickValues(d3.range(0,121,20)).tickSize(10).tickFormat(""))
        .call(function(a){ a.select(".domain").remove(); });
    var frame = g.append("g").attr("stroke","#000").attr("stroke-width",1.6);
    frame.append("line").attr("x1",x(0)).attr("x2",x(0)).attr("y1",y(maxStep)).attr("y2",bottom+10);
    frame.append("line").attr("x1",x(120)).attr("x2",x(120)).attr("y1",y(maxStep)).attr("y2",bottom+10);
    frame.append("line").attr("x1",x(0)).attr("x2",x(120)).attr("y1",bottom).attr("y2",bottom);
}

function drawColorbar(g, top, bottom, ticks, color, title, titleY) {
    var scale = d3.scaleLinear().domain([ticks[0],ticks[ticks.length-1]]).range([bottom,top]);
    var cb = g.append("g").attr("shape-rendering","crispEdges");
    var px = d3.range(top,bottom);
    cb.selectAll(null).data(px).enter().append("rect")
        .attr("x",1100).attr("width",12).attr("y",function(d){ return d; }).attr("height",1.5)
        .attr("fill",function(d){ return color(scale.invert(d+0.5)); });
    cb.append("rect").attr("x",1100).attr("y",top).attr("width",12).attr("height",bottom-top)
        .attr("fill","none").attr("stroke","#000");
    var axis = g.append("g").attr("transform","translate(1112,0)")
        .call(d3.axisRight(scale).tickValues(ticks).tickSize(9).tickFormat(""));
    axis.select(".domain").remove();
    ticks.forEach(function(t){
        mono(g, d3.format("d")(t), 1173, scale(t)+1, "#000", 0.82, "end");
    });
    mono(g, title, 1100, titleY, "#000", 0.68);
    var w = title.length*12;
    g.append("line").attr("x1",1100+w-28).attr("x2",1100+w).attr("y1",titleY-21).attr("y2",titleY-21).attr("stroke","#000").attr("stroke-width",1);
}

function rightLines(g, y, steps) {
    steps.forEach(function(s){
        var parts = s[1];
        parts.forEach(function(p){
            g.append("line").attr("x1",p[0]).attr("x2",p[1]).attr("y1",y(s[0])).attr("y2",y(s[0])).attr("stroke","#000").attr("stroke-width",1.2);
        });
    });
}

// ---- E panel
var eG = svg.append("g");
var yE = d3.scaleLinear().domain([0,5]).range([740,100]);
var mcaE = d3.scaleBand().domain(mcaLabels).range([740,837]);

drawGrid(eG, eHighDb, yE(5), yE(4), eColor, true);
eG.append("g").attr("shape-rendering","crispEdges").selectAll(null).data(eLineSteps).enter().append("rect")
    .attr("x",x(0)).attr("width",x(120)-x(0))
    .attr("y",function(d){ return yE(d); }).attr("height",1.6)
    .attr("fill",function(d,i){ return eColor(eLineDb[i]); });
drawGrid(eG, eSweepDb, yE(4), yE(3), eColor, true);
drawGrid(eG, eLowerDb, yE(3), yE(2), eColor, true);

var burstClip = defs.append("clipPath").attr("id","burstClip").append("rect")
    .attr("x",x(0)).attr("y",yE(3.3)).attr("width",x(120)-x(0)).attr("height",yE(2)-yE(3.3));
var burstG = eG.append("g").attr("clip-path","url(#burstClip)").append("g").attr("filter","url(#softThin)");
burstMin.forEach(function(m,i){
    [[1,-12,0.65],[0.55,0,0.9]].forEach(function(k){
        var top = 2 + (burstTop[i]-2)*k[0], w = burstWidth[i]*(k[0]==1 ? 1 : 0.6);
        var tri = d3.line()([[x(m-w/2),yE(2)],[x(m),yE(top)],[x(m+w/2),yE(2)]]);
        burstG.append("path").attr("d",tri+"Z").attr("fill",eColor(burstDb[i]+k[1])).attr("opacity",k[2]);
    });
});

drawGrid(eG, eMidDb, yE(2), yE(1), eColor, false);
drawGrid(eG, eMidFine, yE(2), yE(1), eColor, false, true);
drawGrid(eG, eBaseDb, yE(1), yE(0), eColor, false);
var stripeBand = d3.scaleBand().domain(d3.range(eBaseStripeDb.length)).range([yE(1),yE(0)]).padding(0.5);
eG.append("g").attr("shape-rendering","crispEdges").selectAll(null).data(eBaseStripeDb).enter().append("rect")
    .attr("x",x(44)).attr("width",x(120)-x(44))
    .attr("y",function(d,i){ return stripeBand(i); }).attr("height",stripeBand.bandwidth())
    .attr("fill",function(d){ return eColor(d); });
eG.append("g").attr("shape-rendering","crispEdges").selectAll(null).data(eColumns).enter().append("rect")
    .attr("x",function(d){ return x(d[0]); }).attr("width",7)
    .attr("y",function(d){ return yE(d[1]); }).attr("height",function(d){ return yE(d[2])-yE(d[1]); })
    .attr("fill",function(d){ return eColor(d[3]); });
drawGrid(eG, eMcaDb, 740, 837, eColor, false);

drawGaps(eG, yE, eGaps, eThinGaps, eDashMin, eDashStep);
drawFce(eG, yE);
eG.append("line").attr("x1",x(64)).attr("x2",x(64)).attr("y1",100).attr("y2",837).attr("stroke","#000").attr("stroke-width",1.5);
drawAxes(eG, yE, 5, mcaE, 837);

var bar1 = drawStatusBars(59);
bar1.selectAll(null).data(d3.range(3.3,120,4.72)).enter().append("rect")
    .attr("x",function(d){ return x(d); })
    .attr("width",function(d,i){ return i%2 ? 2 : 1; })
    .attr("y",60).attr("height",9).attr("fill","#ff0000");

rightLines(eG, yE, [[5,[[1026,1067]]],[4,[[1026,1067]]],[3,[[1026,1034],[1059,1067]]],[2,[[1026,1067]]],[1,[[1026,1067]]],[0,[[1026,1067]]]]);
eG.selectAll(null).data(eDensitySteps).enter().append("line")
    .attr("x1",1026).attr("x2",1034)
    .attr("y1",function(d){ return yE(d); }).attr("y2",function(d){ return yE(d); })
    .attr("stroke","#ff0000");

mono(svg, "GEOTAIL  PWI SFA & MCA   DATE = 970825", 124.5, 30, "#000", 0.66);
mono(svg, "E", 4, 107, "#000", 0.7);
mono(svg, "f(Hz)", 5, 452, "#000", 0.72);
eFreqLabels.forEach(function(s,i){
    var endX = s.length > 3 ? 110 : 98;
    mono(svg, s, endX, yE(i)+8, "#000", 0.74, "end");
});
mono(svg, "17.8", 98, 772, "#000", 0.78, "end");
mono(svg, "10", 50, 804, "#000", 0.82);
mono(svg, "5.62", 98, 836, "#000", 0.78, "end");
mono(svg, "UT", 5, 868, "#000", 0.66);
timeLabels.forEach(function(s,i){ mono(svg, s, x(i*20)-24, 868, "#000", 0.82); });

mono(svg, "10", 1035, 332, "#ff0000", 0.82);
mono(svg, "5", 1047, 355, "#ff0000", 0.82);
mono(svg, "1", 1047, 404, "#ff0000", 0.82);
mono(svg, ".1", 1035, 476, "#ff0000", 0.82);
mono(svg, ".01", 1035, 554, "#ff0000", 0.82);
mono(svg, "[/cc]", 1033, 724, "#ff0000", 0.72);
mono(svg, "MCA", 1040, 804, "#000", 0.58);

// legends
var swatches = [[200,"#000000","MemR",221],[230,"#ff0000","MemW",250],[260,"#0000ff","Sing",280],[290,"#00ffff","Dual",310],[400,"#0000ff","Ex Bx",421],[430,"#ff0000","Ey Bz",451],[900,"#000000","PWI",921],[930,"#ff00ff","MGF",951]];
swatches.forEach(function(s){
    svg.append("rect").attr("x",1125).attr("y",s[0]).attr("width",30).attr("height",10).attr("fill",s[1]);
    mono(svg, s[2], 1175, s[3], s[1], 0.6);
});

drawColorbar(svg, 580, 837, eColorTicks, eColor, "dBV/m/√Hz", 546);

// ---- B panel
var bG = svg.append("g");
var yB = d3.scaleLinear().domain([0,3]).range([1324,940]);
var mcaB = d3.scaleBand().domain(mcaLabels).range([1324,1421]);

drawGrid(bG, bTopDb, yB(3), yB(2), bColor, true);
bG.append("rect").attr("x",x(0)).attr("width",x(120)-x(0)).attr("y",yB(2.62)).attr("height",3).attr("fill",bColor(-86)).attr("opacity",0.7);
drawGrid(bG, bMidDb, yB(2), yB(1), bColor, false);
drawGrid(bG, bMidFine, yB(2), yB(1), bColor, false, true);
drawGrid(bG, bLowDb, yB(1), yB(0), bColor, false);
drawGrid(bG, bLowFine, yB(1), yB(0), bColor, false, true);
drawGrid(bG, bMcaDb, 1324, 1421, bColor, false);
bG.append("g").attr("shape-rendering","crispEdges").selectAll(null).data(bSpikeMin).enter().append("rect")
    .attr("x",function(d){ return x(d); }).attr("width",4)
    .attr("y",function(d,i){ return mcaB(mcaLabels[bSpikeBand[i]]); }).attr("height",mcaB.bandwidth())
    .attr("fill",function(d,i){ return bColor(bSpikeDb[i]); });

drawGaps(bG, yB, bGaps, bThinGaps, bDashMin, bDashStep);
drawFce(bG, yB);
bG.append("line").attr("x1",x(64)).attr("x2",x(64)).attr("y1",940).attr("y2",1421).attr("stroke","#000").attr("stroke-width",1.5);
drawAxes(bG, yB, 3, mcaB, 1421);
drawStatusBars(899);

rightLines(bG, yB, [[3,[[1026,1067]]],[2,[[1026,1067]]],[1,[[1026,1067]]],[0,[[1026,1034],[1047,1067]]]]);
bG.selectAll(null).data(bFieldSteps).enter().append("line")
    .attr("x1",1026).attr("x2",1034)
    .attr("y1",function(d){ return yB(d); }).attr("y2",function(d){ return yB(d); })
    .attr("stroke","#ff0000");

mono(svg, "B", 4, 948, "#000", 0.7);
mono(svg, "f(Hz)", 5, 1138, "#000", 0.72);
bFreqLabels.forEach(function(s,i){
    var endX = s.length > 3 ? 110 : 98;
    mono(svg, s, endX, yB(i)+8, "#000", 0.74, "end");
});
mono(svg, "17.8", 98, 1357, "#000", 0.78, "end");
mono(svg, "10", 50, 1388, "#000", 0.82);
mono(svg, "5.62", 98, 1419, "#000", 0.78, "end");

mono(svg, "50", 1035, 1092, "#ff0000", 0.82);
mono(svg, "10", 1035, 1187, "#ff0000", 0.82);
mono(svg, "5", 1035, 1245, "#ff0000", 0.82);
mono(svg, "1", 1035, 1328, "#ff0000", 0.82);
mono(svg, "[nT]", 1053, 1315, "#ff0000", 0.72);
mono(svg, "MCA", 1040, 1387, "#000", 0.58);

drawColorbar(svg, 1155, 1411, bColorTicks, bColor, "dBnT/√Hz", 1047);

mono(svg, "UT", 5, 1453, "#000", 0.66);
timeLabels.forEach(function(s,i){ mono(svg, s, x(i*20)-24, 1453, "#000", 0.82); });
[["GSMX",gsmx,1481],["GSMY",gsmy,1511],["GSMZ",gsmz,1541]].forEach(function(r){
    mono(svg, r[0], 4, r[2], "#000", 0.56);
    r[1].forEach(function(s,i){
        mono(svg, s.replace("-","−"), x(i*20)+28, r[2], "#000", 0.82, "end");
    });
});
mono(svg, "New Calibration Table (from Oct. 10, 1995)", 675, 1585, "#0000ff", 0.72);
</script>
</body>
</html>
